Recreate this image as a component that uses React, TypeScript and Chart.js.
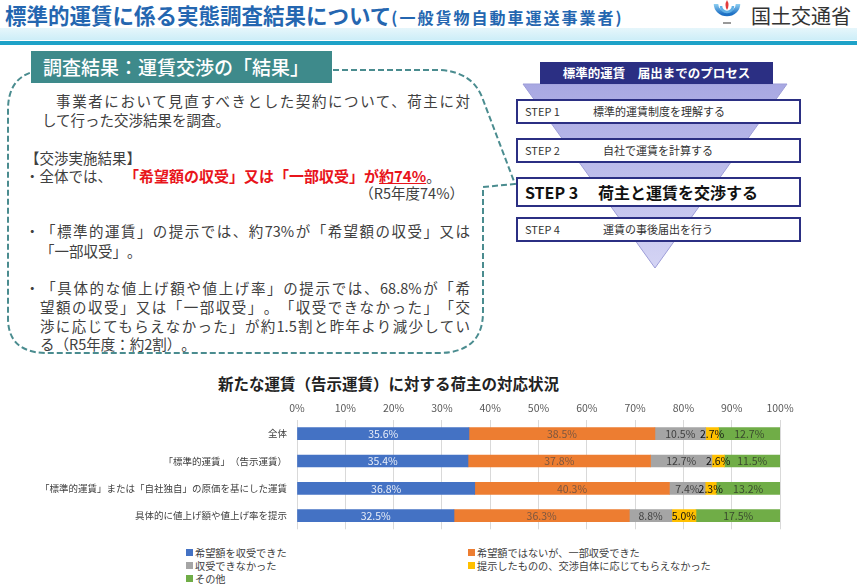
import React, { useEffect, useRef } from "react";
import { Chart, registerables } from "chart.js";

Chart.register(...registerables);

const categories = [
  "全体",
  "「標準的運賃」（告示運賃）",
  "「標準的運賃」または「自社独自」の原価を基にした運賃",
  "具体的に値上げ額や値上げ率を提示",
];
const seriesNames = [
  "希望額を収受できた",
  "希望額ではないが、一部収受できた",
  "収受できなかった",
  "提示したものの、交渉自体に応じてもらえなかった",
  "その他",
];
const accepted = [35.6, 35.4, 36.8, 32.5];
const partial = [38.5, 37.8, 40.3, 36.3];
const rejected = [10.5, 12.7, 7.4, 8.8];
const refused = [2.7, 2.6, 2.3, 5.0];
const other = [12.7, 11.5, 13.2, 17.5];
const xTickValues = [0, 10, 20, 30, 40, 50, 60, 70, 80, 90, 100];

const seriesColors = ["#4472C4", "#ED7D31", "#A5A5A5", "#FFC000", "#70AD47"];
const labelColors = ["#e9eef8", "#7a5640", "#404040", "#111111", "#3a4a2e"];

const JP = "'Noto Sans CJK JP', 'Noto Sans', sans-serif";

const labelPlugin = {
  id: "segLabels",
  afterDatasetsDraw(chart: any) {
    const ctx = chart.ctx;
    chart.data.datasets.forEach((ds: any, i: number) => {
      const meta = chart.getDatasetMeta(i);
      meta.data.forEach((el: any, j: number) => {
        const v = ds.data[j];
        const p = el.getProps(["x", "base", "y"], true);
        ctx.save();
        ctx.fillStyle = labelColors[i];
        ctx.font = `10.5px ${JP}`;
        ctx.textAlign = "center";
        ctx.textBaseline = "middle";
        ctx.fillText(v.toFixed(1) + "%", (p.x + p.base) / 2, p.y + 0.5);
        ctx.restore();
      });
    });
  },
};

function BarChart() {
  const ref = useRef<HTMLCanvasElement>(null);
  useEffect(() => {
    const data = [accepted, partial, rejected, refused, other];
    const chart = new Chart(ref.current as HTMLCanvasElement, {
      type: "bar",
      data: {
        labels: categories,
        datasets: data.map((d, i) => ({
          label: seriesNames[i],
          data: d,
          backgroundColor: seriesColors[i],
          barThickness: 12,
        })),
      },
      options: {
        indexAxis: "y",
        responsive: false,
        animation: false,
        layout: { padding: { left: 0, right: 77, top: 0, bottom: 5 } },
        plugins: { legend: { display: false }, tooltip: { enabled: false } },
        scales: {
          x: {
            position: "top",
            stacked: true,
            min: 0,
            max: 100,
            afterBuildTicks: (s: any) => {
              s.ticks = xTickValues.map((v) => ({ value: v }));
            },
            ticks: {
              callback: (v: any) => v + "%",
              font: { size: 10.5, family: JP },
              color: "#595959",
              padding: 6,
              maxRotation: 0,
            },
            grid: { color: "#d9d9d9", drawTicks: false },
            border: { display: false },
            afterFit: (s: any) => {
              s.height = 25;
            },
          },
          y: {
            stacked: true,
            grid: { display: false, drawTicks: false },
            border: { display: false },
            ticks: { font: { size: 9.5, family: JP }, color: "#404040", padding: 10 },
            afterFit: (s: any) => {
              s.width = 297;
            },
          },
        },
      } as any,
      plugins: [labelPlugin],
    });
    return () => chart.destroy();
  }, []);
  return (
    <canvas
      ref={ref}
      width={857}
      height={150}
      style={{ position: "absolute", left: 0, top: 395, width: 857, height: 150 }}
    />
  );
}

const txt: React.CSSProperties = {
  position: "absolute",
  fontFamily: JP,
  fontSize: 14.5,
  lineHeight: "19px",
  color: "#404040",
  whiteSpace: "nowrap",
};

function Line(props: { x: number; y: number; w?: number; justify?: boolean; right?: boolean; style?: React.CSSProperties; children: React.ReactNode }) {
  const s: React.CSSProperties = { ...txt, left: props.x, top: props.y - 9.5, ...props.style };
  if (props.w) s.width = props.w;
  if (props.justify) {
    s.textAlign = "justify";
    (s as any).textAlignLast = "justify";
  }
  if (props.right) s.textAlign = "right";
  return <div style={s}>{props.children}</div>;
}

const red: React.CSSProperties = { color: "#e8141b", fontWeight: 700, fontSize: 15 };

export default function App() {
  const legendPos = [
    [186, 552],
    [468, 552],
    [186, 565],
    [468, 565],
    [186, 578],
  ];
  const steps = [
    { y: 100, h: 23, s: "STEP 1", t: "標準的運賃制度を理解する", tx: 593 },
    { y: 139, h: 23, s: "STEP 2", t: "自社で運賃を計算する", tx: 603 },
    { y: 178, h: 28, s: "STEP 3", t: "荷主と運賃を交渉する", tx: 598, bold: true },
    { y: 218, h: 23, s: "STEP 4", t: "運賃の事後届出を行う", tx: 603 },
  ];
  return (
    <div
      lang="ja"
      className="slide"
      style={{ position: "absolute", left: 0, top: 0, width: 857, height: 587, background: "#fff", overflow: "hidden", fontFamily: JP }}
    >
      <style>{`.slide, .slide * { text-spacing-trim: space-all; }`}</style>
      {/* header band */}
      <div style={{ position: "absolute", left: 0, top: 28, width: 857, height: 12, background: "linear-gradient(#e6f6fb, #cdeef8)" }} />
      <div style={{ position: "absolute", left: 0, top: 41, width: 857, height: 4, background: "#1ea2c8" }} />
      <div style={{ position: "absolute", left: 5, top: 2, fontSize: 21.5, fontWeight: 700, color: "#2466b0", whiteSpace: "nowrap", lineHeight: "26px" }}>
        標準的運賃に係る実態調査結果について
        <span style={{ fontSize: 16, letterSpacing: 2 }}>(一般貨物自動車運送事業者)</span>
      </div>
      {/* logo */}
      <svg style={{ position: "absolute", left: 711, top: 0 }} width={32} height={26}>
        <defs>
          <linearGradient id="lg" x1="0" y1="0" x2="0" y2="1">
            <stop offset="0" stopColor="#8fd0f2" />
            <stop offset="1" stopColor="#1c6fc4" />
          </linearGradient>
        </defs>
        <path d="M5 4 A 11 10 0 1 0 27 4" fill="none" stroke="url(#lg)" strokeWidth={4.5} />
        <path d="M10 6 A 6 6 0 1 0 22 6" fill="none" stroke="#5fb0e6" strokeWidth={2.5} />
        <path d="M16 0 Q 19 5 16 10 Q 13 5 16 0 Z" fill="#e33b3b" />
        <rect x={12} y={22} width={8} height={2} fill="#999" />
      </svg>
      <div style={{ position: "absolute", left: 751, top: 4, fontSize: 20, color: "#333", whiteSpace: "nowrap", lineHeight: "24px" }}>
        国土交通省
      </div>

      {/* dashed callout and funnel */}
      <svg style={{ position: "absolute", left: 0, top: 0, pointerEvents: "none" }} width={857} height={587}>
        <defs>
          <linearGradient id="fun" x1="0" y1="0" x2="0" y2="1">
            <stop offset="0" stopColor="#a8a8e2" />
            <stop offset="1" stopColor="#d4d4f4" />
          </linearGradient>
        </defs>
        <path
          d="M 45 70 L 440 70 Q 472 72 482 97 L 515 184 L 483 187 L 483 312 Q 483 352 440 353 L 45 353 Q 8 352 8 318 L 8 110 Q 8 72 45 70 Z"
          fill="none"
          stroke="#4a8c8f"
          strokeWidth={2}
          strokeDasharray="6 3"
        />
        <polygon points="523,84 787,84 655,268" fill="url(#fun)" stroke="#9d9dd8" strokeWidth={1} />
        <rect x={540} y={62} width={233} height={22} fill="#2b2f83" />
        {steps.map((st, i) => (
          <rect key={i} x={517} y={st.y} width={283} height={st.h} fill="#fff" stroke="#2b2f83" strokeWidth={2} />
        ))}
      </svg>

      {/* tab */}
      <div style={{ position: "absolute", left: 31, top: 51, width: 301, height: 32, background: "#3e8a8b", color: "#fff", fontSize: 19, lineHeight: "32px", paddingLeft: 12, boxSizing: "border-box", whiteSpace: "nowrap", fontWeight: 500 }}>
        調査結果：運賃交渉の「結果」
      </div>

      {/* funnel texts */}
      <div style={{ position: "absolute", left: 540, top: 62, width: 233, height: 22, color: "#fff", fontSize: 12.5, fontWeight: 700, lineHeight: "22px", textAlign: "center", whiteSpace: "pre" }}>
        標準的運賃　届出までのプロセス
      </div>
      {steps.map((st, i) => (
        <React.Fragment key={i}>
          <div style={{ position: "absolute", left: 525, top: st.y, height: st.h, lineHeight: st.h + "px", fontSize: st.bold ? 16 : 11, fontWeight: st.bold ? 700 : 400, color: st.bold ? "#111" : "#333", whiteSpace: "nowrap" }}>
            {st.s}
          </div>
          <div style={{ position: "absolute", left: st.tx, top: st.y, height: st.h, lineHeight: st.h + "px", fontSize: st.bold ? 16 : 11, fontWeight: st.bold ? 700 : 400, color: st.bold ? "#111" : "#333", whiteSpace: "nowrap" }}>
            {st.t}
          </div>
        </React.Fragment>
      ))}

      {/* left box text */}
      <Line x={40} y={100} w={430} justify>　事業者において見直すべきとした契約について、荷主に対</Line>
      <Line x={42} y={119}>して行った交渉結果を調査。</Line>
      <Line x={25} y={157}>【交渉実施結果】</Line>
      <Line x={25} y={175}>・全体では、</Line>
      <Line x={124} y={175}>
        <span style={red}>「希望額の収受」又は「一部収受」が<span style={{ textDecoration: "underline" }}>約74%</span></span>。
      </Line>
      <Line x={330} y={192} w={134} right>（R5年度74%）</Line>
      <Line x={25} y={230} w={445} justify>・「標準的運賃」の提示では、約73%が「希望額の収受」又は</Line>
      <Line x={40} y={250}>「一部収受」。</Line>
      <Line x={25} y={287} w={445} justify>・「具体的な値上げ額や値上げ率」の提示では、68.8%が「希</Line>
      <Line x={40} y={306} w={430} justify>望額の収受」又は「一部収受」。「収受できなかった」「交</Line>
      <Line x={40} y={325} w={430} justify>渉に応じてもらえなかった」が約1.5割と昨年より減少してい</Line>
      <Line x={40} y={343}>る（R5年度：約2割）。</Line>

      {/* chart title */}
      <div style={{ position: "absolute", left: 218, top: 373, fontSize: 15.5, fontWeight: 700, color: "#222", lineHeight: "20px", whiteSpace: "nowrap" }}>
        新たな運賃（告示運賃）に対する荷主の対応状況
      </div>

      <BarChart />

      {/* legend */}
      {seriesNames.map((n, i) => (
        <div key={i} style={{ position: "absolute", left: legendPos[i][0], top: legendPos[i][1] - 7, height: 14, display: "flex", alignItems: "center", whiteSpace: "nowrap", fontSize: 10.2, color: "#404040" }}>
          <span style={{ display: "inline-block", width: 7, height: 7, background: seriesColors[i], marginRight: 2 }} />
          {n}
        </div>
      ))}
    </div>
  );
}
